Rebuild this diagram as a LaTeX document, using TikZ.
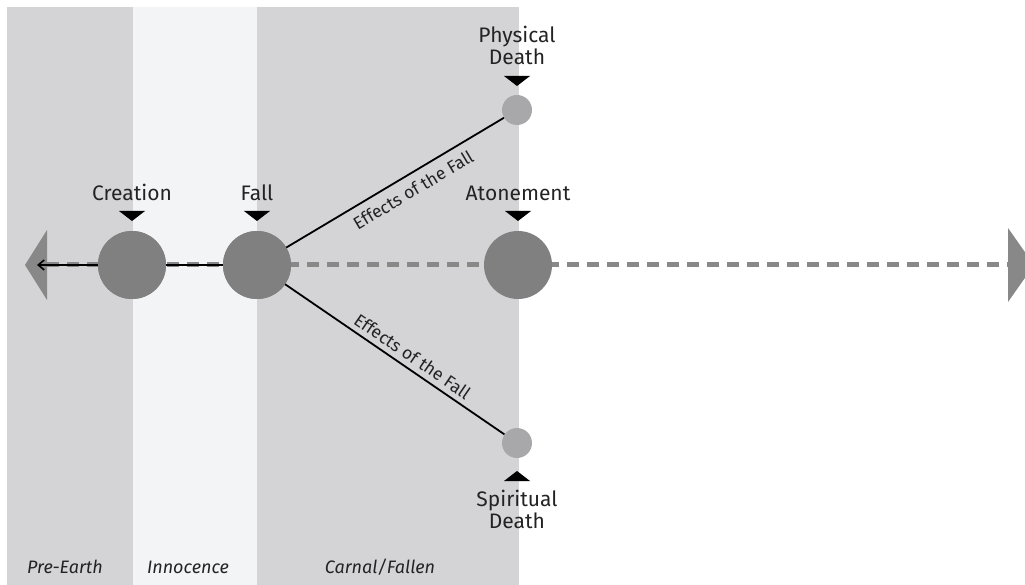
\documentclass[tikz,border=0pt]{standalone}
\usepackage{fontspec}
\setmainfont{Fira Sans}
\usetikzlibrary{arrows.meta,calc}
\definecolor{bandgray}{RGB}{212,212,214}
\definecolor{innocent}{RGB}{243,244,246}
\definecolor{dotgray}{RGB}{128,128,128}
\definecolor{lightdot}{RGB}{168,168,170}
\definecolor{axisgray}{RGB}{136,136,136}
\definecolor{ink}{RGB}{35,35,35}
\tikzset{
  band/.style={fill=#1, draw=none},
  bigdot/.style={circle, fill=dotgray, draw=none, minimum size=68pt, inner sep=0pt},
  smalldot/.style={circle, fill=lightdot, draw=none, minimum size=30pt, inner sep=0pt},
  eventlabel/.style={text=ink, font=\fontsize{21}{22}\selectfont, inner sep=0pt, anchor=base, align=center},
  eralabel/.style={text=ink, font=\fontsize{18}{20}\selectfont\itshape, inner sep=0pt, anchor=base},
  effectlabel/.style={text=ink, font=\fontsize{17.5}{18}\selectfont, sloped},
  pointer/.style={fill=black, draw=none},
  timeline/.style={draw=axisgray, line width=5pt, dash pattern=on 12pt off 8pt},
  effectline/.style={draw=black, line width=1.8pt},
}
\begin{document}
\begin{tikzpicture}[x=1pt, y=-1pt]
  \useasboundingbox (0,0) rectangle (1025,585);
  \clip (0,0) rectangle (1025,585);

  % eras
  \fill[band=bandgray] (7,7) rectangle (133,585);
  \fill[band=innocent] (133,7) rectangle (257,585);
  \fill[band=bandgray] (257,7) rectangle (519,585);

  \node[eralabel] (pre) at (65,573) {Pre-Earth};
  \node[eralabel] (inn) at (188,573) {Innocence};
  \node[eralabel] (car) at (380,573) {Carnal/Fallen};

  % timeline ends
  \coordinate (lt) at (47,265);
  \coordinate (rt) at (1008,265);
  \coordinate (ltip) at (37,265);
  \fill[axisgray] (25,265) -- (47,230) -- (47,300) -- cycle;
  \fill[axisgray] (1008,228) -- (1034,265) -- (1008,302) -- cycle;
  \draw[timeline] (lt) -- (rt);

  % events
  \node[bigdot] (cr) at (132,265) {};
  \node[bigdot] (fa) at (257,265) {};
  \node[bigdot] (at) at (518,265) {};
  \node[smalldot] (pd) at (517,110) {};
  \node[smalldot] (sd) at (517,443) {};

  \draw[line width=1.8pt, -{Straight Barb[length=6pt,width=10pt,line width=1.6pt]}] (fa.center) -- (ltip);
  \node[bigdot] at (cr.center) {};

  % effects of the fall
  \draw[effectline] (fa.center) -- node[effectlabel, below, pos=0.6, inner sep=8pt] (e1) {Effects of the Fall} (pd);
  \draw[effectline] (fa.center) -- node[effectlabel, above, pos=0.6, inner sep=5pt] (e2) {Effects of the Fall} (sd);
  \node[bigdot] at (fa.center) {};

  % labels and pointers
  \node[eventlabel] (lcr) at (132,201) {Creation};
  \node[eventlabel] (lfa) at (257,201) {Fall};
  \node[eventlabel] (lat) at (518,201) {Atonement};
  \node[eventlabel] (lpd) at (517,65) {Physical\\Death};
  \node[eventlabel] (lsd) at (517,528) {Spiritual\\Death};

  \fill[pointer] (119,211) -- (145,211) -- (132,221) -- cycle;
  \fill[pointer] (244,211) -- (270,211) -- (257,221) -- cycle;
  \fill[pointer] (505,211) -- (531,211) -- (518,221) -- cycle;
  \fill[pointer] (504,76) -- (530,76) -- (517,86) -- cycle;
  \fill[pointer] (504,481) -- (530,481) -- (517,471) -- cycle;
\end{tikzpicture}
\end{document}
